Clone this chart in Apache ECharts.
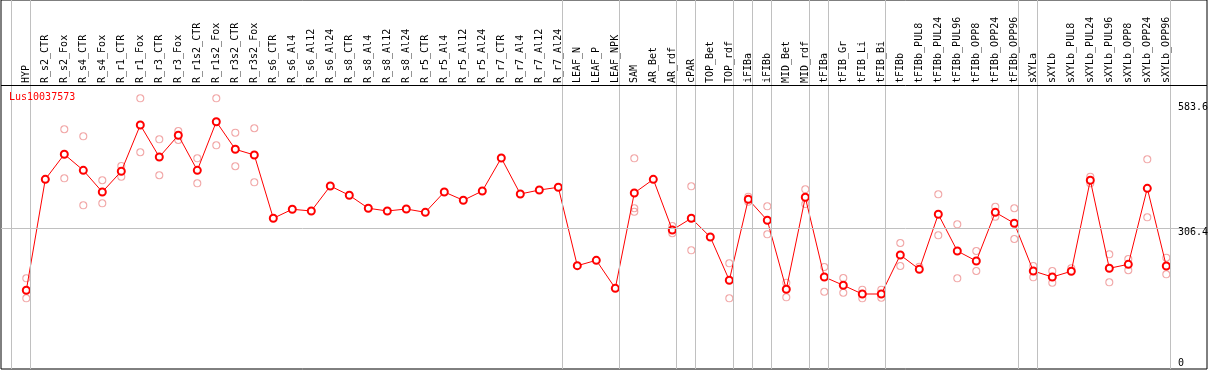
<!DOCTYPE html>
<html><head><meta charset="utf-8">
<script src="https://cdn.jsdelivr.net/npm/echarts@6/dist/echarts.min.js"></script>
<style>html,body{margin:0;padding:0;background:#fff}#c{width:1209px;height:370px}</style>
</head><body><div id="c"></div><script>
const categories = ['HYP','R_s2_CTR','R_s2_Fox','R_s4_CTR','R_s4_Fox','R_r1_CTR','R_r1_Fox','R_r3_CTR','R_r3_Fox','R_r1s2_CTR','R_r1s2_Fox','R_r3s2_CTR','R_r3s2_Fox','R_s6_CTR','R_s6_Al4','R_s6_Al12','R_s6_Al24','R_s8_CTR','R_s8_Al4','R_s8_Al12','R_s8_Al24','R_r5_CTR','R_r5_Al4','R_r5_Al12','R_r5_Al24','R_r7_CTR','R_r7_Al4','R_r7_Al12','R_r7_Al24','LEAF_N','LEAF_P','LEAF_NPK','SAM','AR_Bet','AR_rdf','cPAR','TOP_Bet','TOP_rdf','iFIBa','iFIBb','MID_Bet','MID_rdf','tFIBa','tFIB_Gr','tFIB_Li','tFIB_Bi','tFIBb','tFIBb_PUL8','tFIBb_PUL24','tFIBb_PUL96','tFIBb_OPP8','tFIBb_OPP24','tFIBb_OPP96','sXYLa','sXYLb','sXYLb_PUL8','sXYLb_PUL24','sXYLb_PUL96','sXYLb_OPP8','sXYLb_OPP24','sXYLb_OPP96'];

const meanValues = [171.5,413.3,467.8,432.9,385.7,430.8,531.7,461.9,509.2,432.9,538.8,478.7,466.3,
  328.4,348.0,344.3,398.7,378.5,350.2,344.3,348.6,341.4,385.7,367.6,387.8,459.7,381.3,390.0,395.9,
  225.1,236.8,175.8,383.5,413.3,302.9,328.4,287.6,193.3,369.8,324.0,173.7,374.1,200.5,182.4,163.4,163.4,
  248.4,217.2,337.1,257.1,235.3,341.4,317.5,213.5,200.5,212.9,411.2,219.4,228.1,393.7,224.4];

const rep1 = [197.6,413.3,522.3,507.0,411.2,442.3,589.8,500.5,518.6,459.1,589.8,514.9,524.5,
  null,null,null,null,null,null,null,null,null,null,null,null,null,null,null,null,null,null,null,
  459.1,null,311.6,398.1,null,230.3,375.4,354.5,188.0,391.5,222.2,198.3,172.8,172.8,274.5,222.9,380.6,315.3,257.1,353.6,350.2,224.4,213.5,219.4,419.0,249.9,239.7,456.9,242.5];

const rep2 = [154.0,null,415.5,356.7,361.0,419.0,472.2,422.1,499.0,404.6,487.4,441.7,406.8,
  null,null,null,null,null,null,null,null,null,null,null,null,null,null,null,null,null,null,null,
  350.2,null,295.7,258.6,null,154.0,364.5,293.5,156.2,359.5,168.4,166.2,154.0,155.4,224.4,null,291.3,197.6,213.5,331.8,283.3,199.8,188.0,null,404.6,188.9,215.1,330.5,206.3];

const rep3 = [null,null,null,null,null,null,null,null,null,null,null,null,null,
  null,null,null,null,null,null,null,null,null,null,null,null,null,null,null,null,null,null,null,
  342.7,null,null,null,null,null,null,null,null,null,null,null,null,null,null,null,null,null,null,null,null,null,null,null,null,null,null,null,null];

// index of the last category in each group (separator drawn just after it)
const groupEnds = [-1,0,28,31,34,35,37,38,39,41,42,45,52,53,60];
const yTickLabels = [583.6, 306.4, 0];
const refLineValue = 306.4;
const headerValue = 618.8;
const geneName = 'Lus10037573';

const MONO = 'DejaVu Sans Mono';
const chart = echarts.init(document.getElementById('c'), null, {renderer: 'canvas'});

function pairs(arr) {
  const out = [];
  arr.forEach((v, i) => { if (v !== null) out.push([i, v]); });
  return out;
}
const repData = [].concat(pairs(rep1), pairs(rep2), pairs(rep3));

const markData = groupEnds.map(g => ({xAxis: g + 0.23, lineStyle: {color: '#c0c0c0', width: 1, type: 'solid'}}));
markData.push({yAxis: refLineValue, lineStyle: {color: '#c0c0c0', width: 1, type: 'solid'}});
markData.push({yAxis: headerValue, lineStyle: {color: '#000', width: 1, type: 'solid'}});

chart.setOption({
  animation: false,
  backgroundColor: '#fff',
  title: {
    text: geneName, left: 9, top: 92, padding: 0,
    textStyle: {color: '#ff0000', fontSize: 10, fontFamily: MONO, fontWeight: 'normal'}
  },
  grid: {left: 1, right: 2, top: 0, bottom: 1, show: true, borderColor: '#000', borderWidth: 1, backgroundColor: '#fff'},
  xAxis: {
    type: 'value', min: -1.33158, max: 62.1421, position: 'top', offset: -85,
    axisLine: {show: false}, axisTick: {show: false}, splitLine: {show: false},
    axisLabel: {
      show: true, rotate: 90, margin: 2, fontSize: 10, fontFamily: MONO, color: '#000',
      customValues: categories.map((c, i) => i),
      formatter: v => categories[Math.round(v)] || '',
      hideOverlap: false
    }
  },
  yAxis: {
    type: 'value', min: 0, max: 804,
    axisLine: {show: false}, axisTick: {show: false}, splitLine: {show: false}, axisLabel: {show: false}
  },
  series: [
    {
      type: 'scatter', name: 'replicates', data: repData, z: 2,
      symbol: 'circle', symbolSize: 7,
      itemStyle: {color: 'rgba(0,0,0,0)', borderColor: '#ee9090', borderWidth: 1.1},
      markLine: {silent: true, symbol: ['none', 'none'], label: {show: false}, data: markData, animation: false}
    },
    {
      type: 'line', name: 'mean', data: meanValues.map((v, i) => [i, v]), z: 3,
      symbol: 'emptyCircle', symbolSize: 7,
      lineStyle: {color: '#ff0000', width: 1},
      itemStyle: {color: '#ff0000', borderColor: '#ff0000', borderWidth: 1.2}
    }
  ]
});

// y tick labels positioned through the axis scale
const texts = yTickLabels.map(v => {
  const py = chart.convertToPixel({yAxisIndex: 0}, v);
  const isZero = v === 0;
  return {
    type: 'text', left: 1178, top: isZero ? py - 11 : (v > 400 ? py + 1 : py - 1), silent: true, z: 10,
    style: {text: String(v), fill: '#000', font: '10px ' + MONO}
  };
});
chart.setOption({graphic: texts});
</script></body></html>
